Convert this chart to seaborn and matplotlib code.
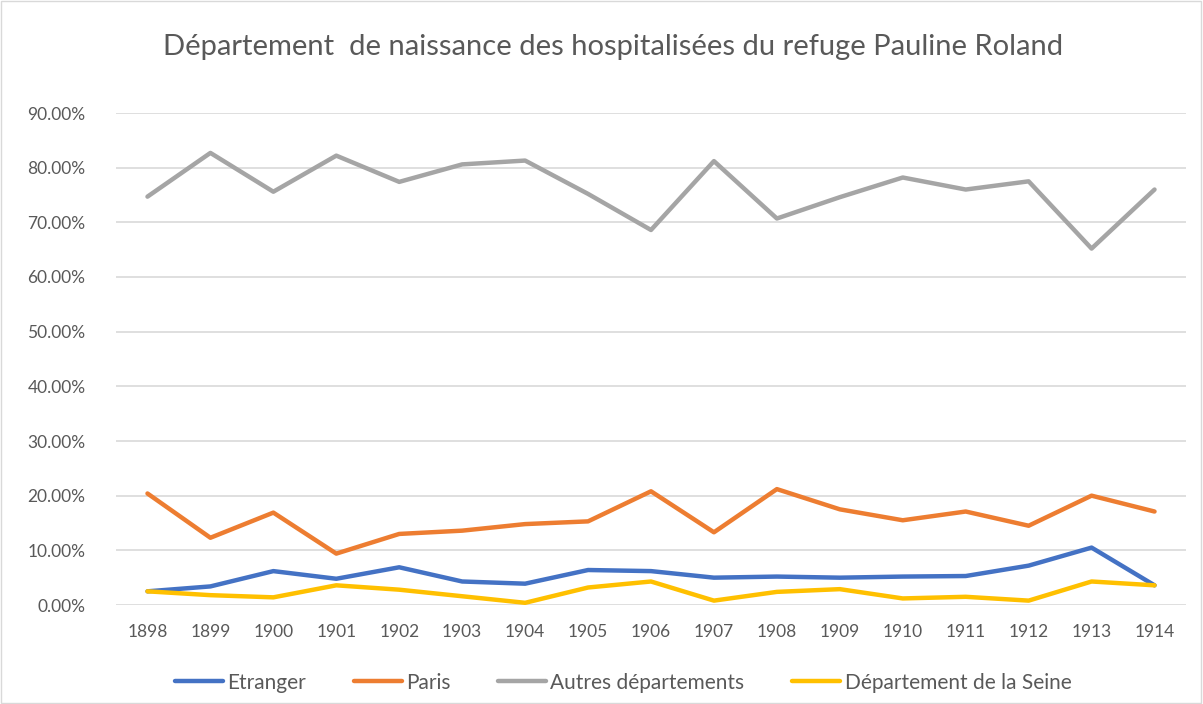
import matplotlib
matplotlib.use("Agg")

import matplotlib.pyplot as plt
import pandas as pd
import seaborn as sns
from matplotlib.ticker import PercentFormatter

annees = [str(a) for a in range(1898, 1915)]

etranger = [2.5, 3.4, 6.2, 4.8, 6.9, 4.3, 3.9, 6.4, 6.2, 5.0, 5.2, 5.0, 5.2, 5.3, 7.2, 10.5, 3.6]
paris = [20.4, 12.3, 16.9, 9.4, 13.0, 13.6, 14.8, 15.3, 20.8, 13.3, 21.2, 17.5, 15.5, 17.1, 14.5, 20.0, 17.1]
autres = [74.7, 82.7, 75.6, 82.2, 77.4, 80.6, 81.3, 75.2, 68.6, 81.2, 70.7, 74.6, 78.2, 76.0, 77.5, 65.2, 76.0]
seine = [2.5, 1.8, 1.4, 3.6, 2.8, 1.6, 0.4, 3.2, 4.3, 0.8, 2.4, 2.9, 1.2, 1.5, 0.8, 4.3, 3.6]

series = {
    "Etranger": etranger,
    "Paris": paris,
    "Autres départements": autres,
    "Département de la Seine": seine,
}
couleurs = ["#4472C4", "#ED7D31", "#A5A5A5", "#FFC000"]

df = pd.DataFrame(
    [(a, nom, v / 100) for nom, vals in series.items() for a, v in zip(annees, vals)],
    columns=["annee", "origine", "part"],
)

sns.set_theme(style="white")
plt.rcParams["font.family"] = ["Lato", "DejaVu Sans"]
gris = "#595959"

fig = plt.figure(figsize=(12.03, 7.04), dpi=100)
ax = fig.add_axes([116 / 1203, 1 - 605 / 704, 1070 / 1203, 492 / 704])

sns.lineplot(data=df, x="annee", y="part", hue="origine", palette=couleurs,
             linewidth=3.2, sort=False, ax=ax)

ax.set_xlim(-0.5, len(annees) - 0.5)
ax.set_ylim(0, 0.9)
ax.set_yticks([i / 10 for i in range(10)])
ax.yaxis.set_major_formatter(PercentFormatter(1.0, decimals=2))
ax.grid(axis="y", color="#D9D9D9", linewidth=1.2)
ax.set_axisbelow(True)
for s in ax.spines.values():
    s.set_visible(False)
ax.tick_params(axis="both", length=0, labelsize=12.5, colors=gris, pad=14)
ax.tick_params(axis="y", pad=22)
ax.set_xlabel("")
ax.set_ylabel("")

ax.legend(loc="center", bbox_to_anchor=(0.474, -0.158), ncol=4, frameon=False,
          fontsize=15, labelcolor=gris, handlelength=2.3, handletextpad=0.2,
          columnspacing=2.3)

fig.suptitle("Département  de naissance des hospitalisées du refuge Pauline Roland",
             x=0.51, y=0.933, va="center", fontsize=21, color=gris)

fig.patches.append(plt.Rectangle((0.001, 0.001), 0.997, 0.997, transform=fig.transFigure,
                                 fill=False, edgecolor="#D9D9D9", linewidth=1))

fig.savefig("out.png", dpi=100)
plt.close(fig)
